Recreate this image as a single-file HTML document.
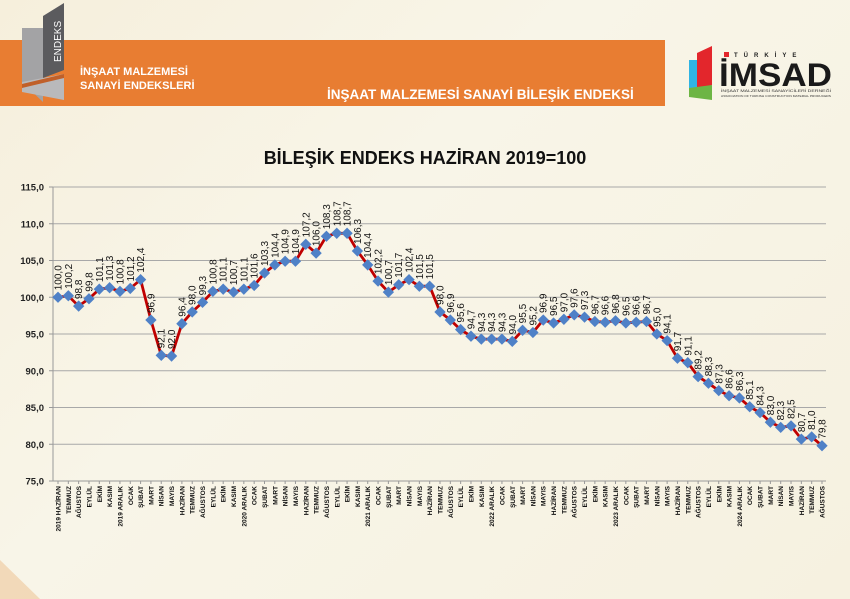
<!DOCTYPE html>
<html><head><meta charset="utf-8">
<style>
html,body{margin:0;padding:0;}
body{width:850px;height:599px;overflow:hidden;background:linear-gradient(135deg,#f6efdc 0%,#f8f5e8 40%,#f6f1e0 100%);font-family:"Liberation Sans",sans-serif;position:relative;}
</style></head><body>
<svg id="s" width="850" height="599" xmlns="http://www.w3.org/2000/svg" style="position:absolute;left:0;top:0">
<rect x="0" y="40" width="665" height="66" fill="#e87d32"/>
<polygon points="0,560 40,599 0,599" fill="#efc79a" opacity="0.6"/>
<polygon points="22,28 43,28 43,102 22,82" fill="#a3a3a5"/>
<polygon points="43,16 64,3 64,70 43,78" fill="#5b5b5e"/>
<polygon points="22,82 64,74 64,100 22,92" fill="#b9b9bb"/>
<polygon points="22,84 64,74 64,78 22,88" fill="#c0602a"/>
<text x="0" y="0" transform="translate(61,62) rotate(-90)" font-size="10" fill="#fff" font-family="Liberation Sans">ENDEKS</text>
<text x="80" y="75" font-size="11" font-weight="bold" fill="#fff">İNŞAAT MALZEMESİ</text>
<text x="80" y="89" font-size="11" font-weight="bold" fill="#fff">SANAYİ ENDEKSLERİ</text>
<text x="327" y="99" font-size="13.5" font-weight="bold" fill="#fff">İNŞAAT MALZEMESİ SANAYİ BİLEŞİK ENDEKSİ</text>
<polygon points="689,60 697,60 697,95 689,92" fill="#2fb4e4"/>
<polygon points="697,53 712,46 712,85 697,90" fill="#e3262c"/>
<polygon points="689,88 712,85 712,100 689,97" fill="#6db544"/>
<rect x="724" y="52" width="5" height="5" fill="#e3262c"/>
<text x="734" y="57" font-size="6" font-weight="bold" fill="#222" letter-spacing="6">TÜRKİYE</text>
<text x="719" y="86" font-size="32" font-weight="bold" fill="#1a1a1a" textLength="113" lengthAdjust="spacingAndGlyphs">İMSAD</text>
<text x="721" y="92" font-size="4" fill="#333" textLength="110" lengthAdjust="spacingAndGlyphs">İNŞAAT MALZEMESİ SANAYİCİLERİ DERNEĞİ</text>
<text x="721" y="97" font-size="3" fill="#333" textLength="110" lengthAdjust="spacingAndGlyphs">ASSOCIATION OF TURKISH CONSTRUCTION MATERIAL PRODUCERS</text>
<text x="425" y="164" font-size="18" font-weight="bold" fill="#111" text-anchor="middle">BİLEŞİK ENDEKS HAZİRAN 2019=100</text>
<g id="g"></g>
</svg>
<script>
var d=[100.0,100.2,98.8,99.8,101.1,101.3,100.8,101.2,102.4,96.9,92.1,92.0,96.4,98.0,99.3,100.8,101.1,100.7,101.1,101.6,103.3,104.4,104.9,104.9,107.2,106.0,108.3,108.7,108.7,106.3,104.4,102.2,100.7,101.7,102.4,101.5,101.5,98.0,96.9,95.6,94.7,94.3,94.3,94.3,94.0,95.5,95.2,96.9,96.5,97.0,97.6,97.3,96.7,96.6,96.8,96.5,96.6,96.7,95.0,94.1,91.7,91.1,89.2,88.3,87.3,86.6,86.3,85.1,84.3,83.0,82.3,82.5,80.7,81.0,79.8];
var m=["OCAK","ŞUBAT","MART","NİSAN","MAYIS","HAZİRAN","TEMMUZ","AĞUSTOS","EYLÜL","EKİM","KASIM","ARALIK"];
function Y(v){return 481-(v-75)*294/40;}
function X(i){return 58+i*764/74;}
var h='';
for(var k=0;k<=8;k++){var v=75+k*5,y=Y(v);
h+='<line x1="53" x2="826" y1="'+y+'" y2="'+y+'" stroke="#a8a8a8" stroke-width="1"/>';
h+='<text x="44" y="'+(y+3.5)+'" font-size="9.5" font-weight="bold" text-anchor="end" fill="#222">'+v.toFixed(1).replace('.',',')+'</text>';
h+='<line x1="49" x2="53" y1="'+y+'" y2="'+y+'" stroke="#999"/>';}
h+='<line x1="53" x2="53" y1="187" y2="481" stroke="#999"/>';
var pts=d.map(function(v,i){return X(i).toFixed(1)+','+Y(v).toFixed(1)}).join(' ');
h+='<polyline points="'+pts+'" fill="none" stroke="#c00000" stroke-width="2.8"/>';
for(var i=0;i<d.length;i++){var x=X(i),y=Y(d[i]);
h+='<rect x="'+(x-4)+'" y="'+(y-4)+'" width="8" height="8" fill="#4f81c7" transform="rotate(45 '+x+' '+y+')"/>';
h+='<text transform="translate('+(x+3.5)+','+(y-7)+') rotate(-90)" font-size="10" fill="#111">'+d[i].toFixed(1).replace('.',',')+'</text>';
var mi=(5+i)%12,yr=2019+Math.floor((5+i)/12);var lab=m[mi];if(i==0)lab='2019 HAZİRAN';else if(mi==11)lab=yr+' ARALIK';
h+='<line x1="'+x+'" x2="'+x+'" y1="481" y2="484" stroke="#999"/>';
h+='<text transform="translate('+(x+2.5)+',486) rotate(-90)" font-size="6.5" font-weight="bold" text-anchor="end" fill="#111">'+lab+'</text>';}
h+='<line x1="53" x2="826" y1="481" y2="481" stroke="#999"/>';
document.getElementById('g').innerHTML=h;
</script>
</body></html>
